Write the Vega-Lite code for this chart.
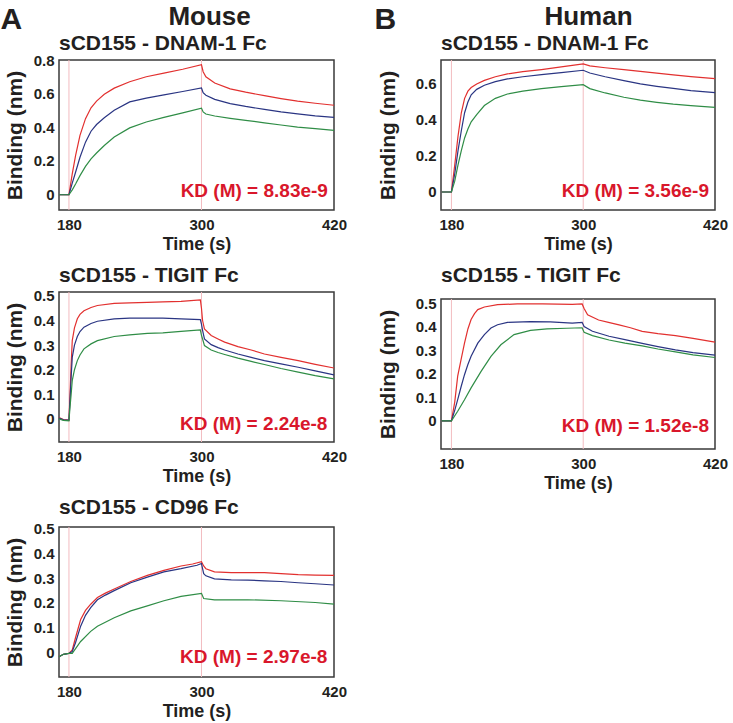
{
"$schema":"https://vega.github.io/schema/vega-lite/v6.json",
"padding":{"left":0,"top":3,"right":2,"bottom":0},
"background":"white",
"config":{
 "font":"Liberation Sans",
 "view":{"stroke":"#3a3a3a","strokeWidth":1.5},
 "axis":{"labelFont":"Liberation Sans","labelFontWeight":"bold","labelFontSize":15,"labelColor":"#231f20","titleFont":"Liberation Sans","titleFontWeight":"bold","titleColor":"#231f20","grid":false,"ticks":false,"domain":false,"labelOverlap":false,"labelBound":false,"tickCount":12},
 "axisX":{"labelPadding":7,"titleFontSize":18,"titlePadding":3,"labelFlush":false},
 "axisY":{"labelPadding":5,"titleFontSize":21,"titlePadding":8},
 "title":{"font":"Liberation Sans","fontWeight":"bold","color":"#231f20","fontSize":21,"anchor":"start","frame":"group","offset":0},
 "line":{"strokeWidth":1.2,"clip":true}
},
"datasets":{
 "phase":[{"t":180},{"t":300}],
 "kd":[{"panel":"A1","label":"KD (M) = 8.83e-9"},{"panel":"B1","label":"KD (M) = 3.56e-9"},{"panel":"A2","label":"KD (M) = 2.24e-8"},{"panel":"B2","label":"KD (M) = 1.52e-8"},{"panel":"A3","label":"KD (M) = 2.97e-8"}],
 "curves":[
{"panel":"A1","s":"r","t":171,"v":-0.004},{"panel":"A1","s":"r","t":180,"v":-0.004},{"panel":"A1","s":"r","t":183,"v":0.12},{"panel":"A1","s":"r","t":186,"v":0.23},{"panel":"A1","s":"r","t":190,"v":0.35},{"panel":"A1","s":"r","t":195,"v":0.45},{"panel":"A1","s":"r","t":200,"v":0.515},{"panel":"A1","s":"r","t":205,"v":0.555},{"panel":"A1","s":"r","t":212,"v":0.595},{"panel":"A1","s":"r","t":221,"v":0.632},{"panel":"A1","s":"r","t":235,"v":0.67},{"panel":"A1","s":"r","t":250,"v":0.7},{"panel":"A1","s":"r","t":266,"v":0.722},{"panel":"A1","s":"r","t":283,"v":0.745},{"panel":"A1","s":"r","t":300,"v":0.772},{"panel":"A1","s":"r","t":301.5,"v":0.73},{"panel":"A1","s":"r","t":304,"v":0.7},{"panel":"A1","s":"r","t":312,"v":0.663},{"panel":"A1","s":"r","t":326,"v":0.628},{"panel":"A1","s":"r","t":340,"v":0.608},{"panel":"A1","s":"r","t":357,"v":0.587},{"panel":"A1","s":"r","t":372,"v":0.57},{"panel":"A1","s":"r","t":387,"v":0.555},{"panel":"A1","s":"r","t":403,"v":0.542},{"panel":"A1","s":"r","t":420,"v":0.53},
{"panel":"A1","s":"b","t":171,"v":-0.004},{"panel":"A1","s":"b","t":180,"v":-0.004},{"panel":"A1","s":"b","t":183,"v":0.065},{"panel":"A1","s":"b","t":186,"v":0.13},{"panel":"A1","s":"b","t":190,"v":0.22},{"panel":"A1","s":"b","t":195,"v":0.31},{"panel":"A1","s":"b","t":200,"v":0.375},{"panel":"A1","s":"b","t":205,"v":0.415},{"panel":"A1","s":"b","t":212,"v":0.455},{"panel":"A1","s":"b","t":221,"v":0.5},{"panel":"A1","s":"b","t":235,"v":0.55},{"panel":"A1","s":"b","t":250,"v":0.572},{"panel":"A1","s":"b","t":266,"v":0.592},{"panel":"A1","s":"b","t":283,"v":0.612},{"panel":"A1","s":"b","t":300,"v":0.633},{"panel":"A1","s":"b","t":301.5,"v":0.605},{"panel":"A1","s":"b","t":304,"v":0.59},{"panel":"A1","s":"b","t":312,"v":0.565},{"panel":"A1","s":"b","t":326,"v":0.54},{"panel":"A1","s":"b","t":340,"v":0.523},{"panel":"A1","s":"b","t":357,"v":0.505},{"panel":"A1","s":"b","t":372,"v":0.49},{"panel":"A1","s":"b","t":387,"v":0.478},{"panel":"A1","s":"b","t":403,"v":0.467},{"panel":"A1","s":"b","t":420,"v":0.458},
{"panel":"A1","s":"g","t":171,"v":-0.004},{"panel":"A1","s":"g","t":180,"v":-0.004},{"panel":"A1","s":"g","t":183,"v":0.025},{"panel":"A1","s":"g","t":186,"v":0.06},{"panel":"A1","s":"g","t":190,"v":0.11},{"panel":"A1","s":"g","t":195,"v":0.165},{"panel":"A1","s":"g","t":200,"v":0.21},{"panel":"A1","s":"g","t":205,"v":0.245},{"panel":"A1","s":"g","t":212,"v":0.29},{"panel":"A1","s":"g","t":221,"v":0.34},{"panel":"A1","s":"g","t":235,"v":0.395},{"panel":"A1","s":"g","t":250,"v":0.43},{"panel":"A1","s":"g","t":266,"v":0.458},{"panel":"A1","s":"g","t":283,"v":0.485},{"panel":"A1","s":"g","t":300,"v":0.513},{"panel":"A1","s":"g","t":301.5,"v":0.49},{"panel":"A1","s":"g","t":304,"v":0.478},{"panel":"A1","s":"g","t":312,"v":0.466},{"panel":"A1","s":"g","t":326,"v":0.452},{"panel":"A1","s":"g","t":340,"v":0.44},{"panel":"A1","s":"g","t":357,"v":0.425},{"panel":"A1","s":"g","t":372,"v":0.412},{"panel":"A1","s":"g","t":387,"v":0.4},{"panel":"A1","s":"g","t":403,"v":0.39},{"panel":"A1","s":"g","t":420,"v":0.38},

{"panel":"B1","s":"r","t":171,"v":0},{"panel":"B1","s":"r","t":180,"v":0},{"panel":"B1","s":"r","t":183,"v":0.15},{"panel":"B1","s":"r","t":186,"v":0.31},{"panel":"B1","s":"r","t":189,"v":0.44},{"panel":"B1","s":"r","t":192,"v":0.52},{"panel":"B1","s":"r","t":195,"v":0.56},{"panel":"B1","s":"r","t":198,"v":0.58},{"panel":"B1","s":"r","t":203,"v":0.6},{"panel":"B1","s":"r","t":210,"v":0.62},{"panel":"B1","s":"r","t":220,"v":0.64},{"panel":"B1","s":"r","t":231,"v":0.656},{"panel":"B1","s":"r","t":245,"v":0.668},{"panel":"B1","s":"r","t":262,"v":0.68},{"panel":"B1","s":"r","t":280,"v":0.695},{"panel":"B1","s":"r","t":300,"v":0.711},{"panel":"B1","s":"r","t":306,"v":0.7},{"panel":"B1","s":"r","t":320,"v":0.69},{"panel":"B1","s":"r","t":337,"v":0.68},{"panel":"B1","s":"r","t":352,"v":0.67},{"panel":"B1","s":"r","t":367,"v":0.66},{"panel":"B1","s":"r","t":382,"v":0.65},{"panel":"B1","s":"r","t":398,"v":0.641},{"panel":"B1","s":"r","t":420,"v":0.63},
{"panel":"B1","s":"b","t":171,"v":0},{"panel":"B1","s":"b","t":180,"v":0},{"panel":"B1","s":"b","t":183,"v":0.1},{"panel":"B1","s":"b","t":186,"v":0.23},{"panel":"B1","s":"b","t":189,"v":0.34},{"panel":"B1","s":"b","t":192,"v":0.44},{"panel":"B1","s":"b","t":195,"v":0.5},{"panel":"B1","s":"b","t":198,"v":0.54},{"panel":"B1","s":"b","t":203,"v":0.57},{"panel":"B1","s":"b","t":210,"v":0.593},{"panel":"B1","s":"b","t":220,"v":0.613},{"panel":"B1","s":"b","t":231,"v":0.628},{"panel":"B1","s":"b","t":245,"v":0.64},{"panel":"B1","s":"b","t":262,"v":0.652},{"panel":"B1","s":"b","t":280,"v":0.663},{"panel":"B1","s":"b","t":300,"v":0.676},{"panel":"B1","s":"b","t":306,"v":0.661},{"panel":"B1","s":"b","t":320,"v":0.64},{"panel":"B1","s":"b","t":337,"v":0.618},{"panel":"B1","s":"b","t":352,"v":0.6},{"panel":"B1","s":"b","t":367,"v":0.587},{"panel":"B1","s":"b","t":382,"v":0.575},{"panel":"B1","s":"b","t":398,"v":0.563},{"panel":"B1","s":"b","t":420,"v":0.552},
{"panel":"B1","s":"g","t":171,"v":0},{"panel":"B1","s":"g","t":180,"v":0},{"panel":"B1","s":"g","t":183,"v":0.06},{"panel":"B1","s":"g","t":186,"v":0.15},{"panel":"B1","s":"g","t":189,"v":0.23},{"panel":"B1","s":"g","t":192,"v":0.3},{"panel":"B1","s":"g","t":195,"v":0.35},{"panel":"B1","s":"g","t":198,"v":0.39},{"panel":"B1","s":"g","t":203,"v":0.43},{"panel":"B1","s":"g","t":210,"v":0.48},{"panel":"B1","s":"g","t":220,"v":0.52},{"panel":"B1","s":"g","t":231,"v":0.544},{"panel":"B1","s":"g","t":245,"v":0.56},{"panel":"B1","s":"g","t":262,"v":0.574},{"panel":"B1","s":"g","t":280,"v":0.585},{"panel":"B1","s":"g","t":300,"v":0.596},{"panel":"B1","s":"g","t":306,"v":0.574},{"panel":"B1","s":"g","t":320,"v":0.55},{"panel":"B1","s":"g","t":337,"v":0.526},{"panel":"B1","s":"g","t":352,"v":0.51},{"panel":"B1","s":"g","t":367,"v":0.498},{"panel":"B1","s":"g","t":382,"v":0.488},{"panel":"B1","s":"g","t":398,"v":0.48},{"panel":"B1","s":"g","t":420,"v":0.47},

{"panel":"A2","s":"r","t":171,"v":0.005},{"panel":"A2","s":"r","t":175,"v":-0.003},{"panel":"A2","s":"r","t":180,"v":-0.005},{"panel":"A2","s":"r","t":181,"v":0.1},{"panel":"A2","s":"r","t":182,"v":0.22},{"panel":"A2","s":"r","t":183,"v":0.318},{"panel":"A2","s":"r","t":185,"v":0.37},{"panel":"A2","s":"r","t":187.6,"v":0.407},{"panel":"A2","s":"r","t":190,"v":0.425},{"panel":"A2","s":"r","t":193.6,"v":0.44},{"panel":"A2","s":"r","t":200,"v":0.453},{"panel":"A2","s":"r","t":205.8,"v":0.461},{"panel":"A2","s":"r","t":221,"v":0.47},{"panel":"A2","s":"r","t":235,"v":0.472},{"panel":"A2","s":"r","t":251,"v":0.474},{"panel":"A2","s":"r","t":265,"v":0.476},{"panel":"A2","s":"r","t":281.5,"v":0.478},{"panel":"A2","s":"r","t":299,"v":0.484},{"panel":"A2","s":"r","t":300,"v":0.45},{"panel":"A2","s":"r","t":301,"v":0.4},{"panel":"A2","s":"r","t":302.7,"v":0.366},{"panel":"A2","s":"r","t":308.8,"v":0.339},{"panel":"A2","s":"r","t":315,"v":0.325},{"panel":"A2","s":"r","t":321,"v":0.312},{"panel":"A2","s":"r","t":333,"v":0.294},{"panel":"A2","s":"r","t":345,"v":0.28},{"panel":"A2","s":"r","t":357,"v":0.264},{"panel":"A2","s":"r","t":372,"v":0.25},{"panel":"A2","s":"r","t":387.6,"v":0.237},{"panel":"A2","s":"r","t":403,"v":0.222},{"panel":"A2","s":"r","t":420,"v":0.207},
{"panel":"A2","s":"b","t":171,"v":0.003},{"panel":"A2","s":"b","t":175,"v":-0.004},{"panel":"A2","s":"b","t":180,"v":-0.005},{"panel":"A2","s":"b","t":181,"v":0.08},{"panel":"A2","s":"b","t":182,"v":0.17},{"panel":"A2","s":"b","t":183,"v":0.25},{"panel":"A2","s":"b","t":185,"v":0.3},{"panel":"A2","s":"b","t":187.6,"v":0.335},{"panel":"A2","s":"b","t":190,"v":0.355},{"panel":"A2","s":"b","t":193.6,"v":0.373},{"panel":"A2","s":"b","t":200,"v":0.388},{"panel":"A2","s":"b","t":205.8,"v":0.397},{"panel":"A2","s":"b","t":221,"v":0.407},{"panel":"A2","s":"b","t":235,"v":0.41},{"panel":"A2","s":"b","t":251,"v":0.41},{"panel":"A2","s":"b","t":265,"v":0.41},{"panel":"A2","s":"b","t":281.5,"v":0.407},{"panel":"A2","s":"b","t":299,"v":0.404},{"panel":"A2","s":"b","t":300,"v":0.385},{"panel":"A2","s":"b","t":301,"v":0.36},{"panel":"A2","s":"b","t":302.7,"v":0.325},{"panel":"A2","s":"b","t":308.8,"v":0.302},{"panel":"A2","s":"b","t":315,"v":0.29},{"panel":"A2","s":"b","t":321,"v":0.28},{"panel":"A2","s":"b","t":333,"v":0.264},{"panel":"A2","s":"b","t":345,"v":0.25},{"panel":"A2","s":"b","t":357,"v":0.237},{"panel":"A2","s":"b","t":372,"v":0.224},{"panel":"A2","s":"b","t":387.6,"v":0.21},{"panel":"A2","s":"b","t":403,"v":0.195},{"panel":"A2","s":"b","t":420,"v":0.179},
{"panel":"A2","s":"g","t":171,"v":0},{"panel":"A2","s":"g","t":175,"v":-0.006},{"panel":"A2","s":"g","t":180,"v":-0.008},{"panel":"A2","s":"g","t":181,"v":0.05},{"panel":"A2","s":"g","t":182,"v":0.1},{"panel":"A2","s":"g","t":183,"v":0.156},{"panel":"A2","s":"g","t":185,"v":0.2},{"panel":"A2","s":"g","t":187.6,"v":0.237},{"panel":"A2","s":"g","t":190,"v":0.26},{"panel":"A2","s":"g","t":193.6,"v":0.285},{"panel":"A2","s":"g","t":200,"v":0.305},{"panel":"A2","s":"g","t":205.8,"v":0.318},{"panel":"A2","s":"g","t":221,"v":0.335},{"panel":"A2","s":"g","t":235,"v":0.342},{"panel":"A2","s":"g","t":251,"v":0.348},{"panel":"A2","s":"g","t":265,"v":0.35},{"panel":"A2","s":"g","t":281.5,"v":0.356},{"panel":"A2","s":"g","t":299,"v":0.362},{"panel":"A2","s":"g","t":300,"v":0.34},{"panel":"A2","s":"g","t":301,"v":0.325},{"panel":"A2","s":"g","t":302.7,"v":0.298},{"panel":"A2","s":"g","t":308.8,"v":0.28},{"panel":"A2","s":"g","t":315,"v":0.27},{"panel":"A2","s":"g","t":321,"v":0.262},{"panel":"A2","s":"g","t":333,"v":0.247},{"panel":"A2","s":"g","t":345,"v":0.234},{"panel":"A2","s":"g","t":357,"v":0.221},{"panel":"A2","s":"g","t":372,"v":0.205},{"panel":"A2","s":"g","t":387.6,"v":0.19},{"panel":"A2","s":"g","t":403,"v":0.176},{"panel":"A2","s":"g","t":420,"v":0.163},

{"panel":"B2","s":"r","t":171,"v":0},{"panel":"B2","s":"r","t":180,"v":0},{"panel":"B2","s":"r","t":183,"v":0.08},{"panel":"B2","s":"r","t":185.7,"v":0.19},{"panel":"B2","s":"r","t":189,"v":0.265},{"panel":"B2","s":"r","t":191.9,"v":0.33},{"panel":"B2","s":"r","t":195,"v":0.39},{"panel":"B2","s":"r","t":197.9,"v":0.43},{"panel":"B2","s":"r","t":201,"v":0.455},{"panel":"B2","s":"r","t":204,"v":0.472},{"panel":"B2","s":"r","t":210,"v":0.483},{"panel":"B2","s":"r","t":222,"v":0.493},{"panel":"B2","s":"r","t":240,"v":0.496},{"panel":"B2","s":"r","t":263,"v":0.496},{"panel":"B2","s":"r","t":290,"v":0.494},{"panel":"B2","s":"r","t":299,"v":0.496},{"panel":"B2","s":"r","t":300.8,"v":0.477},{"panel":"B2","s":"r","t":304,"v":0.45},{"panel":"B2","s":"r","t":314,"v":0.428},{"panel":"B2","s":"r","t":323,"v":0.418},{"panel":"B2","s":"r","t":332.6,"v":0.407},{"panel":"B2","s":"r","t":343,"v":0.395},{"panel":"B2","s":"r","t":353.7,"v":0.38},{"panel":"B2","s":"r","t":368,"v":0.37},{"panel":"B2","s":"r","t":384,"v":0.362},{"panel":"B2","s":"r","t":400,"v":0.35},{"panel":"B2","s":"r","t":420,"v":0.334},
{"panel":"B2","s":"b","t":171,"v":0},{"panel":"B2","s":"b","t":180,"v":0},{"panel":"B2","s":"b","t":183,"v":0.045},{"panel":"B2","s":"b","t":185.7,"v":0.09},{"panel":"B2","s":"b","t":188.8,"v":0.145},{"panel":"B2","s":"b","t":191.9,"v":0.196},{"panel":"B2","s":"b","t":194.9,"v":0.238},{"panel":"B2","s":"b","t":197.9,"v":0.274},{"panel":"B2","s":"b","t":204,"v":0.33},{"panel":"B2","s":"b","t":210,"v":0.366},{"panel":"B2","s":"b","t":216,"v":0.394},{"panel":"B2","s":"b","t":222,"v":0.408},{"panel":"B2","s":"b","t":231,"v":0.418},{"panel":"B2","s":"b","t":252,"v":0.421},{"panel":"B2","s":"b","t":270,"v":0.42},{"panel":"B2","s":"b","t":290,"v":0.415},{"panel":"B2","s":"b","t":299,"v":0.418},{"panel":"B2","s":"b","t":300.8,"v":0.4},{"panel":"B2","s":"b","t":308.4,"v":0.38},{"panel":"B2","s":"b","t":323.5,"v":0.359},{"panel":"B2","s":"b","t":338,"v":0.345},{"panel":"B2","s":"b","t":353.7,"v":0.329},{"panel":"B2","s":"b","t":368,"v":0.315},{"panel":"B2","s":"b","t":384,"v":0.301},{"panel":"B2","s":"b","t":400,"v":0.29},{"panel":"B2","s":"b","t":420,"v":0.279},
{"panel":"B2","s":"g","t":171,"v":0},{"panel":"B2","s":"g","t":180,"v":0},{"panel":"B2","s":"g","t":185.7,"v":0.041},{"panel":"B2","s":"g","t":191.9,"v":0.09},{"panel":"B2","s":"g","t":197.9,"v":0.14},{"panel":"B2","s":"g","t":207,"v":0.21},{"panel":"B2","s":"g","t":216,"v":0.274},{"panel":"B2","s":"g","t":225,"v":0.323},{"panel":"B2","s":"g","t":237,"v":0.366},{"panel":"B2","s":"g","t":252,"v":0.384},{"panel":"B2","s":"g","t":267,"v":0.39},{"panel":"B2","s":"g","t":285,"v":0.393},{"panel":"B2","s":"g","t":299,"v":0.395},{"panel":"B2","s":"g","t":300.8,"v":0.376},{"panel":"B2","s":"g","t":308.4,"v":0.362},{"panel":"B2","s":"g","t":323.5,"v":0.343},{"panel":"B2","s":"g","t":338,"v":0.33},{"panel":"B2","s":"g","t":353.7,"v":0.318},{"panel":"B2","s":"g","t":368,"v":0.305},{"panel":"B2","s":"g","t":384,"v":0.293},{"panel":"B2","s":"g","t":400,"v":0.28},{"panel":"B2","s":"g","t":420,"v":0.269},

{"panel":"A3","s":"r","t":171,"v":-0.018},{"panel":"A3","s":"r","t":175,"v":-0.008},{"panel":"A3","s":"r","t":180,"v":-0.004},{"panel":"A3","s":"r","t":183,"v":0.01},{"panel":"A3","s":"r","t":186,"v":0.06},{"panel":"A3","s":"r","t":190.6,"v":0.133},{"panel":"A3","s":"r","t":195,"v":0.17},{"panel":"A3","s":"r","t":199.7,"v":0.195},{"panel":"A3","s":"r","t":205.8,"v":0.222},{"panel":"A3","s":"r","t":213,"v":0.24},{"panel":"A3","s":"r","t":221,"v":0.257},{"panel":"A3","s":"r","t":236,"v":0.287},{"panel":"A3","s":"r","t":251,"v":0.312},{"panel":"A3","s":"r","t":266,"v":0.332},{"panel":"A3","s":"r","t":281.5,"v":0.35},{"panel":"A3","s":"r","t":292,"v":0.358},{"panel":"A3","s":"r","t":300,"v":0.367},{"panel":"A3","s":"r","t":302,"v":0.35},{"panel":"A3","s":"r","t":304,"v":0.339},{"panel":"A3","s":"r","t":311.8,"v":0.326},{"panel":"A3","s":"r","t":327,"v":0.323},{"panel":"A3","s":"r","t":342,"v":0.323},{"panel":"A3","s":"r","t":357,"v":0.323},{"panel":"A3","s":"r","t":372,"v":0.319},{"panel":"A3","s":"r","t":387.6,"v":0.315},{"panel":"A3","s":"r","t":403,"v":0.313},{"panel":"A3","s":"r","t":420,"v":0.312},
{"panel":"A3","s":"b","t":171,"v":-0.018},{"panel":"A3","s":"b","t":175,"v":-0.008},{"panel":"A3","s":"b","t":180,"v":-0.004},{"panel":"A3","s":"b","t":183,"v":0.003},{"panel":"A3","s":"b","t":186,"v":0.04},{"panel":"A3","s":"b","t":190.6,"v":0.106},{"panel":"A3","s":"b","t":195,"v":0.15},{"panel":"A3","s":"b","t":199.7,"v":0.181},{"panel":"A3","s":"b","t":205.8,"v":0.213},{"panel":"A3","s":"b","t":213,"v":0.232},{"panel":"A3","s":"b","t":221,"v":0.25},{"panel":"A3","s":"b","t":236,"v":0.282},{"panel":"A3","s":"b","t":251,"v":0.305},{"panel":"A3","s":"b","t":266,"v":0.326},{"panel":"A3","s":"b","t":281.5,"v":0.339},{"panel":"A3","s":"b","t":296,"v":0.353},{"panel":"A3","s":"b","t":300,"v":0.36},{"panel":"A3","s":"b","t":302,"v":0.319},{"panel":"A3","s":"b","t":304,"v":0.31},{"panel":"A3","s":"b","t":311.8,"v":0.298},{"panel":"A3","s":"b","t":327,"v":0.294},{"panel":"A3","s":"b","t":342,"v":0.293},{"panel":"A3","s":"b","t":357,"v":0.29},{"panel":"A3","s":"b","t":372,"v":0.287},{"panel":"A3","s":"b","t":387.6,"v":0.282},{"panel":"A3","s":"b","t":403,"v":0.278},{"panel":"A3","s":"b","t":420,"v":0.273},
{"panel":"A3","s":"g","t":171,"v":-0.018},{"panel":"A3","s":"g","t":175,"v":-0.008},{"panel":"A3","s":"g","t":180,"v":-0.004},{"panel":"A3","s":"g","t":183,"v":-0.004},{"panel":"A3","s":"g","t":186,"v":0.015},{"panel":"A3","s":"g","t":190.6,"v":0.044},{"panel":"A3","s":"g","t":199.7,"v":0.085},{"panel":"A3","s":"g","t":205.8,"v":0.106},{"panel":"A3","s":"g","t":221,"v":0.14},{"panel":"A3","s":"g","t":236,"v":0.168},{"panel":"A3","s":"g","t":251,"v":0.188},{"panel":"A3","s":"g","t":266,"v":0.209},{"panel":"A3","s":"g","t":281.5,"v":0.227},{"panel":"A3","s":"g","t":300,"v":0.239},{"panel":"A3","s":"g","t":302,"v":0.218},{"panel":"A3","s":"g","t":311.8,"v":0.213},{"panel":"A3","s":"g","t":342,"v":0.213},{"panel":"A3","s":"g","t":372,"v":0.209},{"panel":"A3","s":"g","t":403,"v":0.202},{"panel":"A3","s":"g","t":420,"v":0.195}
 ]
},
"hconcat":[
 {"title":{"text":"A","anchor":"start","frame":"bounds","fontSize":30,"offset":-31,"dx":-3},
  "vconcat":[{
   "title":{"text":"Mouse","anchor":"start","frame":"bounds","fontSize":26,"dx":165,"offset":2},
   "spacing":10,
   "vconcat":[
    {"width":275,"height":150,"title":{"text":"sCD155 - DNAM-1 Fc","offset":-1},"layer":[
     {"data":{"name":"phase"},"mark":{"type":"rule","color":"#f2bcc0","strokeWidth":1},"encoding":{"x":{"field":"t","type":"quantitative"}}},
     {"data":{"name":"curves"},"transform":[{"filter":"datum.panel==='A1'"}],"mark":"line","encoding":{
       "x":{"field":"t","type":"quantitative","scale":{"domain":[171,420],"nice":false,"zero":false},"axis":{"title":"Time (s)","values":[180,300,420],"tickCount":12,"labelOverlap":false}},
       "y":{"field":"v","type":"quantitative","scale":{"domain":[-0.095,0.8],"nice":false,"zero":false},"axis":{"title":"Binding (nm)","values":[0,0.2,0.4,0.6,0.8],"tickCount":12,"format":".1~f","labelOverlap":false}},
       "color":{"field":"s","type":"nominal","scale":{"domain":["r","b","g"],"range":["#e2302f","#2a3583","#2f8d46"]},"legend":null}}},
     {"data":{"name":"kd"},"transform":[{"filter":"datum.panel==='A1'"}],"mark":{"type":"text","align":"right","baseline":"alphabetic","fontSize":19,"fontWeight":"bold","color":"#d9172b"},"encoding":{"x":{"datum":414.5},"y":{"datum":-0.02},"text":{"field":"label"}}}
    ]},
    {"width":275,"height":150,"title":{"text":"sCD155 - TIGIT Fc","offset":3},"layer":[
     {"data":{"name":"phase"},"mark":{"type":"rule","color":"#f2bcc0","strokeWidth":1},"encoding":{"x":{"field":"t","type":"quantitative"}}},
     {"data":{"name":"curves"},"transform":[{"filter":"datum.panel==='A2'"}],"mark":"line","encoding":{
       "x":{"field":"t","type":"quantitative","scale":{"domain":[171,420],"nice":false,"zero":false},"axis":{"title":"Time (s)","values":[180,300,420],"tickCount":12,"labelOverlap":false}},
       "y":{"field":"v","type":"quantitative","scale":{"domain":[-0.094,0.516],"nice":false,"zero":false},"axis":{"title":"Binding (nm)","values":[0,0.1,0.2,0.3,0.4,0.5],"tickCount":12,"format":".1~f","labelOverlap":false}},
       "color":{"field":"s","type":"nominal","scale":{"domain":["r","b","g"],"range":["#e2302f","#2a3583","#2f8d46"]},"legend":null}}},
     {"data":{"name":"kd"},"transform":[{"filter":"datum.panel==='A2'"}],"mark":{"type":"text","align":"right","baseline":"alphabetic","fontSize":19,"fontWeight":"bold","color":"#d9172b"},"encoding":{"x":{"datum":414},"y":{"datum":-0.047},"text":{"field":"label"}}}
    ]},
    {"width":275,"height":150,"title":{"text":"sCD155 - CD96 Fc","offset":4},"layer":[
     {"data":{"name":"phase"},"mark":{"type":"rule","color":"#f2bcc0","strokeWidth":1},"encoding":{"x":{"field":"t","type":"quantitative"}}},
     {"data":{"name":"curves"},"transform":[{"filter":"datum.panel==='A3'"}],"mark":"line","encoding":{
       "x":{"field":"t","type":"quantitative","scale":{"domain":[171,420],"nice":false,"zero":false},"axis":{"title":"Time (s)","values":[180,300,420],"tickCount":12,"labelOverlap":false}},
       "y":{"field":"v","type":"quantitative","scale":{"domain":[-0.1,0.508],"nice":false,"zero":false},"axis":{"title":"Binding (nm)","values":[0,0.1,0.2,0.3,0.4,0.5],"tickCount":12,"format":".1~f","labelOverlap":false}},
       "color":{"field":"s","type":"nominal","scale":{"domain":["r","b","g"],"range":["#e2302f","#2a3583","#2f8d46"]},"legend":null}}},
     {"data":{"name":"kd"},"transform":[{"filter":"datum.panel==='A3'"}],"mark":{"type":"text","align":"right","baseline":"alphabetic","fontSize":19,"fontWeight":"bold","color":"#d9172b"},"encoding":{"x":{"datum":414},"y":{"datum":-0.045},"text":{"field":"label"}}}
    ]}
   ]
  }]
 },
 {"title":{"text":"B","anchor":"start","frame":"bounds","fontSize":30,"offset":-31,"dx":-2},
  "vconcat":[{
   "title":{"text":"Human","anchor":"start","frame":"bounds","fontSize":26,"dx":168,"offset":2},
   "spacing":10,
   "vconcat":[
    {"width":274,"height":150,"title":{"text":"sCD155 - DNAM-1 Fc","offset":6},"layer":[
     {"data":{"name":"phase"},"mark":{"type":"rule","color":"#f2bcc0","strokeWidth":1},"encoding":{"x":{"field":"t","type":"quantitative"}}},
     {"data":{"name":"curves"},"transform":[{"filter":"datum.panel==='B1'"}],"mark":"line","encoding":{
       "x":{"field":"t","type":"quantitative","scale":{"domain":[170.5,420],"nice":false,"zero":false},"axis":{"title":"Time (s)","values":[180,300,420],"tickCount":12,"labelOverlap":false}},
       "y":{"field":"v","type":"quantitative","scale":{"domain":[-0.1,0.733],"nice":false,"zero":false},"axis":{"title":"Binding (nm)","titlePadding":17,"values":[0,0.2,0.4,0.6],"tickCount":12,"format":".1~f","labelOverlap":false}},
       "color":{"field":"s","type":"nominal","scale":{"domain":["r","b","g"],"range":["#e2302f","#2a3583","#2f8d46"]},"legend":null}}},
     {"data":{"name":"kd"},"transform":[{"filter":"datum.panel==='B1'"}],"mark":{"type":"text","align":"right","baseline":"alphabetic","fontSize":19,"fontWeight":"bold","color":"#d9172b"},"encoding":{"x":{"datum":414.5},"y":{"datum":-0.03},"text":{"field":"label"}}}
    ]},
    {"width":274,"height":150,"title":{"text":"sCD155 - TIGIT Fc","offset":10},"layer":[
     {"data":{"name":"phase"},"mark":{"type":"rule","color":"#f2bcc0","strokeWidth":1},"encoding":{"x":{"field":"t","type":"quantitative"}}},
     {"data":{"name":"curves"},"transform":[{"filter":"datum.panel==='B2'"}],"mark":"line","encoding":{
       "x":{"field":"t","type":"quantitative","scale":{"domain":[170.5,420],"nice":false,"zero":false},"axis":{"title":"Time (s)","values":[180,300,420],"tickCount":12,"labelOverlap":false}},
       "y":{"field":"v","type":"quantitative","scale":{"domain":[-0.119,0.517],"nice":false,"zero":false},"axis":{"title":"Binding (nm)","titlePadding":17,"values":[0,0.1,0.2,0.3,0.4,0.5],"tickCount":12,"format":".1~f","labelOverlap":false}},
       "color":{"field":"s","type":"nominal","scale":{"domain":["r","b","g"],"range":["#e2302f","#2a3583","#2f8d46"]},"legend":null}}},
     {"data":{"name":"kd"},"transform":[{"filter":"datum.panel==='B2'"}],"mark":{"type":"text","align":"right","baseline":"alphabetic","fontSize":19,"fontWeight":"bold","color":"#d9172b"},"encoding":{"x":{"datum":414.5},"y":{"datum":-0.048},"text":{"field":"label"}}}
    ]}
   ]
  }]
 }
],
"spacing":26
}
